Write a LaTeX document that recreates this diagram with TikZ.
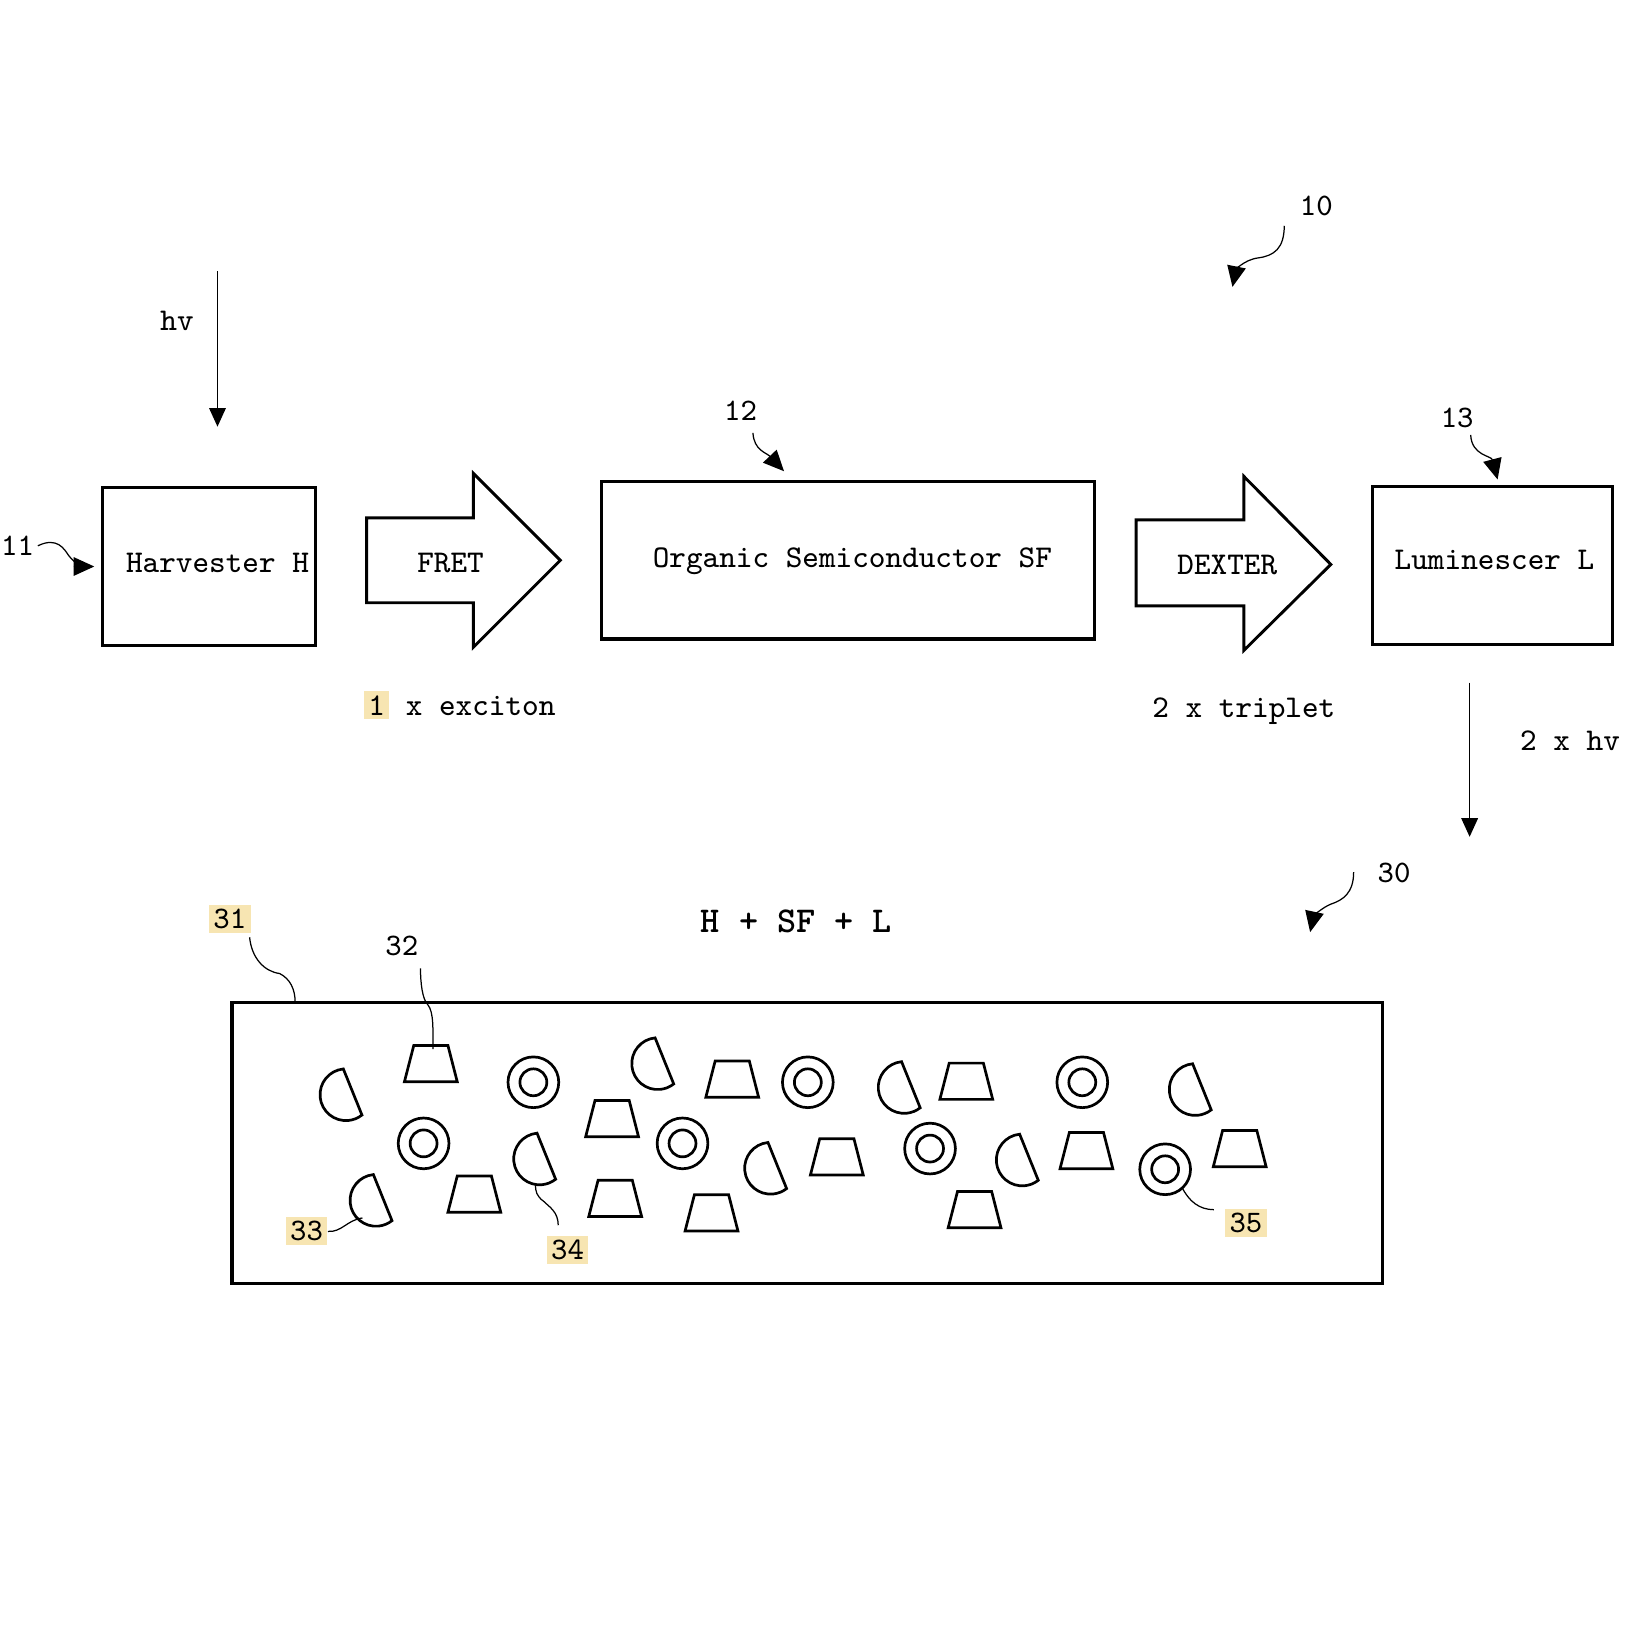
\documentclass[tikz,border=0pt]{standalone}
\usepackage{fontspec}
\usetikzlibrary{arrows.meta}
\definecolor{hl}{RGB}{247,229,178}
\newcommand\hdisc[1]{\draw[part] #1 ++(95.7:2.5mm) arc[start angle=95.7, end angle=308.3, radius=2.5mm] -- cycle;}
\newcommand\ring[1]{\draw[part] #1 circle[radius=2.45mm]; \draw[part] #1 circle[radius=1.3mm];}
\newcommand\trap[1]{\draw[part] #1 ++(-2.55mm,-1.75mm) -- ++(5.1mm,0) -- ++(-0.9mm,3.5mm) -- ++(-3.3mm,0) -- cycle;}
\begin{document}
\begin{tikzpicture}[x=0.1mm,y=-0.1mm,
  txt/.style={font=\ttfamily\fontsize{8.7}{10}\selectfont, inner sep=0},
  refn/.style={font=\ttfamily\fontsize{8.6}{9}\selectfont, inner sep=0.3mm},
  hlref/.style={refn, fill=hl, inner sep=0.4mm},
  mixf/.style={font=\ttfamily\bfseries\fontsize{10}{12}\selectfont, inner sep=0},
  frame/.style={draw, line width=0.3mm, inner sep=0},
  blk/.style={draw, line width=0.28mm, line join=miter},
  part/.style={draw, line width=0.26mm},
  flow/.style={line width=0.15mm, -{Triangle[length=1.8mm,width=1.6mm]}},
  lead/.style={line width=0.12mm},
  curl/.style={lead, -{Triangle[length=2mm,width=1.8mm]}}]
\useasboundingbox (0,0) rectangle (1570,1570);
\fboxsep=0.4mm
% boxes
\node[frame, minimum width=20.6mm, minimum height=15.2mm] (harv) at (202,547) {};
\node[frame, minimum width=47.6mm, minimum height=15.2mm] (org) at (819,541) {};
\node[frame, minimum width=23.2mm, minimum height=15.2mm] (lum) at (1441,546) {};
\node[frame, minimum width=111.1mm, minimum height=27.1mm] (mixbox) at (779.5,1103.5) {};
% block arrows
\draw[blk] (354,500) -- (457,500) -- (457,457) -- (541,541) -- (457,625) -- (457,582) -- (354,582) -- cycle;
\draw[blk] (1097,502) -- (1201,502) -- (1201,460) -- (1285,545) -- (1201,628) -- (1201,585) -- (1097,585) -- cycle;
% texts
\node[txt] (harvT) at (210,544) {Harvester H};
\node[txt] (fretT) at (435,544) {FRET};
\node[txt] (orgT) at (823,542) {Organic Semiconductor SF};
\node[txt] (dexT) at (1185,546) {DEXTER};
\node[txt] (lumT) at (1443,541) {Luminescer L};
\node[txt] (exc) at (444,681) {\colorbox{hl}{1} x exciton};
\node[txt] (trip) at (1201,687) {2 x triplet};
\node[txt] (hvtwo) at (1516,715) {2 x hv};
\node[txt] (hvone) at (171,310) {hv};
\node[mixf] (mix) at (769,890) {H + SF + L};
% reference numerals
\node[refn] (n10) at (1271,199) {10};
\node[refn] (n11) at (17,527) {11};
\node[refn] (n12) at (715,397) {12};
\node[refn] (n13) at (1407,404) {13};
\node[refn] (n30) at (1346,843) {30};
\node[hlref] (n31) at (222,887) {31};
\node[refn] (n32) at (388,913) {32};
\node[hlref] (n33) at (296,1189) {33};
\node[hlref] (n34) at (548,1207) {34};
\node[hlref] (n35) at (1203,1181) {35};
% flow arrows
\coordinate (hvS) at (210,262);
\coordinate (hvE) at (210,412);
\draw[flow] (hvS) -- (hvE);
\coordinate (outS) at (1419,659);
\coordinate (outE) at (1419,808);
\draw[flow] (outS) -- (outE);
% curly reference arrows
\coordinate (t10) at (1190,277);
\draw[curl] (1240,218) .. controls (1240,240) and (1230,247) .. (1215,249) .. controls (1200,251) and (1193,262) .. (t10);
\coordinate (t11) at (91,547);
\draw[curl] (n11.east) .. controls (55,518) and (62,530) .. (66,536) .. controls (72,544) and (80,547) .. (t11);
\coordinate (t12) at (757,455);
\draw[curl] (727,418) .. controls (728,435) and (740,437) .. (t12);
\coordinate (t13) at (1446,463);
\draw[curl] (1420,420) .. controls (1421,440) and (1440,440) .. (t13);
\coordinate (t30) at (1265,900);
\draw[curl] (1307,842) .. controls (1307,862) and (1297,869) .. (1285,873) .. controls (1275,877) and (1268,886) .. (t30);
% leaders
\coordinate (l31) at (285,968);
\draw[lead] (241,905) .. controls (243,925) and (255,938) .. (270,940) .. controls (280,945) and (285,955) .. (l31);
\coordinate (l32) at (418,1013);
\draw[lead] (406,935) .. controls (406,950) and (408,965) .. (413,970) .. controls (419,977) and (418,995) .. (l32);
\coordinate (l33) at (350,1176);
\draw[lead] (n33.east) .. controls (330,1190) and (335,1178) .. (l33);
\coordinate (l34) at (517,1144);
\draw[lead] (539,1183) .. controls (539,1170) and (530,1165) .. (525,1160) .. controls (518,1155) and (517,1150) .. (l34);
\coordinate (l35) at (1141,1146);
\draw[lead] (1172,1168) .. controls (1158,1168) and (1148,1160) .. (l35);
% particles
\hdisc{(334,1057)}
\hdisc{(635,1027)}
\hdisc{(363,1159)}
\hdisc{(521,1119)}
\hdisc{(744,1128)}
\hdisc{(873,1050)}
\hdisc{(987,1120)}
\hdisc{(1154,1052)}
\ring{(515,1045)}
\ring{(409,1104)}
\ring{(659,1104)}
\ring{(780,1045)}
\ring{(898,1109)}
\ring{(1045,1045)}
\ring{(1125,1129)}
\trap{(416,1027)}
\trap{(591,1080)}
\trap{(707,1042)}
\trap{(933,1044)}
\trap{(458,1153)}
\trap{(594,1157)}
\trap{(687,1171)}
\trap{(808,1117)}
\trap{(941,1168)}
\trap{(1049,1111)}
\trap{(1197,1109)}
\end{tikzpicture}
\end{document}
